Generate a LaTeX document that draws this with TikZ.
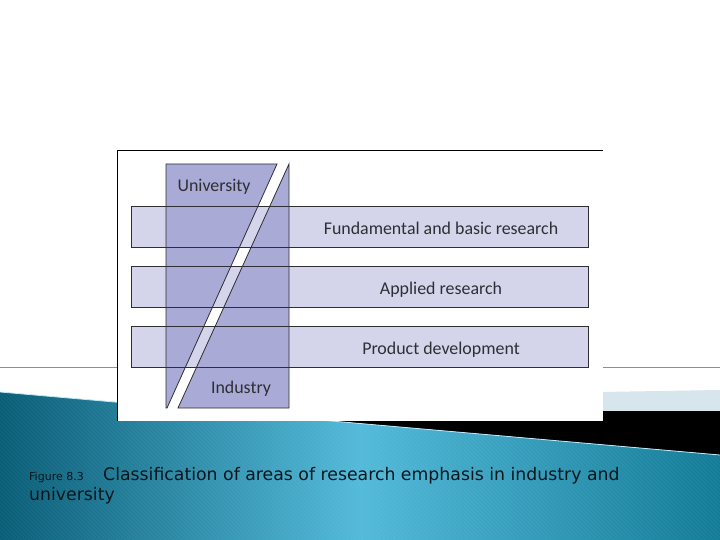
\documentclass[tikz,border=0pt]{standalone}
\usepackage{fontspec}
\setmainfont{Carlito}
\newfontfamily\capfont{DejaVu Sans}
\definecolor{barfill}{HTML}{D4D5EB}
\definecolor{colfill}{HTML}{A9ABD6}
\definecolor{edge}{HTML}{2E2E34}
\definecolor{tealdark}{HTML}{0A5E78}
\definecolor{teallight}{HTML}{52BADA}
\definecolor{tealright}{HTML}{137C98}
\definecolor{paleband}{HTML}{D7E6EC}
\definecolor{rulecol}{HTML}{5E9FB2}
\definecolor{capink}{HTML}{0B161C}
\begin{document}
\begin{tikzpicture}[x=1pt,y=-1pt,font=\fontsize{17.9}{21}\selectfont]
\useasboundingbox (0,0) rectangle (720,540);
\fill[white] (0,0) rectangle (720,540);

% slide background
\coordinate (tl) at (0,392);
\coordinate (tr) at (720,455);

\draw[rulecol, line width=1pt] (0,367) -- (720,367);
\fill[paleband] (420,395) -- (720,390) -- (720,412) -- (420,412) -- cycle;
\fill[black] (217,411) -- (720,411) -- (tr) -- cycle;
\shade[left color=tealdark, right color=tealright, middle color=teallight] (tl) -- (tr) -- (720,540) -- (0,540) -- cycle;

\begin{scope}
\clip (tl) -- (tr) -- (720,540) -- (0,540) -- cycle;
\foreach \i in {-170,-166,...,720}
  \draw[white, opacity=0.06, line width=0.6pt] (\i,380) -- ++(170,170);
\end{scope}
\draw[cyan!25, line width=0.8pt] (tl) -- (tr);

% figure
\fill[white] (117,151) rectangle (603,421);
\draw[black, line width=1pt] (117,421) -- (117,151) -- (603,151);

\foreach \y in {206,266,326}
  \fill[barfill] (131,\y) rectangle (588,\y+41);

\filldraw[fill=colfill, draw=edge, line width=0.8pt] (166,164) -- (277,164) -- (167,408) -- (166,408) -- cycle;
\filldraw[fill=colfill, draw=edge, line width=0.8pt] (289,164) -- (289,408) -- (178,408) -- cycle;

\foreach \y in {206,266,326}
  \draw[edge, line width=0.8pt] (131,\y) rectangle (588,\y+41);

\node[anchor=base, text=edge] (univ) at (214,192) {University};
\node[anchor=base, text=edge] (ind) at (241,393.5) {Industry};
\node[anchor=base, text=edge] (fund) at (441,234.5) {Fundamental and basic research};
\node[anchor=base, text=edge] (appl) at (441,294.5) {Applied research};
\node[anchor=base, text=edge] (prod) at (441,354.5) {Product development};

% caption
\node[anchor=base west, inner sep=0, text=capink, font=\capfont\fontsize{11}{13}\selectfont] (fignum) at (29,480) {Figure 8.3};
\node[anchor=base west, inner sep=0, text=capink, font=\capfont\fontsize{17.3}{20}\selectfont] (captext) at (103,480) {Classification of areas of research emphasis in industry and};
\node[anchor=base west, inner sep=0, text=capink, font=\capfont\fontsize{17.3}{20}\selectfont] (capwrap) at (29,500) {university};

\end{tikzpicture}
\end{document}
